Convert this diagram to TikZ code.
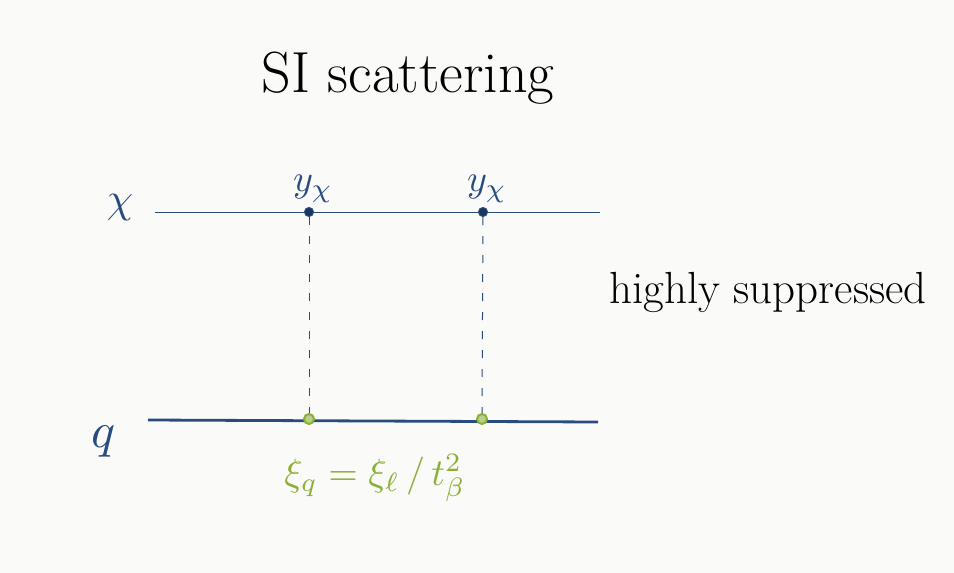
\documentclass[tikz,border=0pt]{standalone}
\usepackage{graphicx}
\usetikzlibrary{positioning}
\definecolor{paper}{RGB}{250,250,248}
\definecolor{inkblue}{RGB}{40,76,128}
\definecolor{inkgreen}{RGB}{138,176,56}
\tikzset{
  vtx/.style={circle,draw=inkblue,fill=inkblue!70!black,line width=1pt,inner sep=0pt,minimum size=9pt},
  gvtx/.style={circle,draw=inkgreen,fill=inkgreen!60,line width=2pt,inner sep=0pt,minimum size=10pt},
  lbl/.style={text=inkblue,inner sep=1pt},
  prop/.style={inkblue,line width=1pt,dash pattern=on 8pt off 11pt},
}
\begin{document}
\begin{tikzpicture}[x=1pt,y=-1pt,line width=.8pt]
\fill[paper] (0,0) rectangle (954,573);
\useasboundingbox (0,0) rectangle (954,573);
% titre
\node (title) at (408,78) {\fontsize{58}{66}\selectfont SI scattering};
% ligne du DM et ligne du quark
\coordinate (xl) at (155,212);
\coordinate (xr) at (600,212);
\coordinate (ql) at (148,420);
\coordinate (qr) at (598,422);
\draw[inkblue,line width=1pt] (xl) -- (xr);
\draw[inkblue,line width=2.8pt] (ql) -- (qr);
\node[vtx] (v1) at (309,212) {};
\node[vtx] (v2) at (483,212) {};
\node[gvtx] (w1) at (309,419) {};
\node[gvtx] (w2) at (482,419) {};
% echange scalaire
\draw[prop] (v1) -- (w1);
\draw[prop] (v2) -- (w2);
% etiquettes
\node[lbl] (chi) at (120,208) {\scalebox{4.2}{$\chi$}};
\node[lbl] (q) at (104,442) {\scalebox{5}{$q$}};
\node[lbl,above=3pt of v1,xshift=4pt] (y1) {\scalebox{3.8}{$y_\chi$}};
\node[lbl,above=3pt of v2,xshift=4pt] (y2) {\scalebox{3.8}{$y_\chi$}};
\node[text=inkgreen] (xiq) at (375,478) {\scalebox{3.8}{$\xi_q=\xi_{\ell}\,/\,t_\beta^2$}};
\node (supp) at (768,292) {\fontsize{45}{54}\selectfont highly suppressed};
\end{tikzpicture}
\end{document}
